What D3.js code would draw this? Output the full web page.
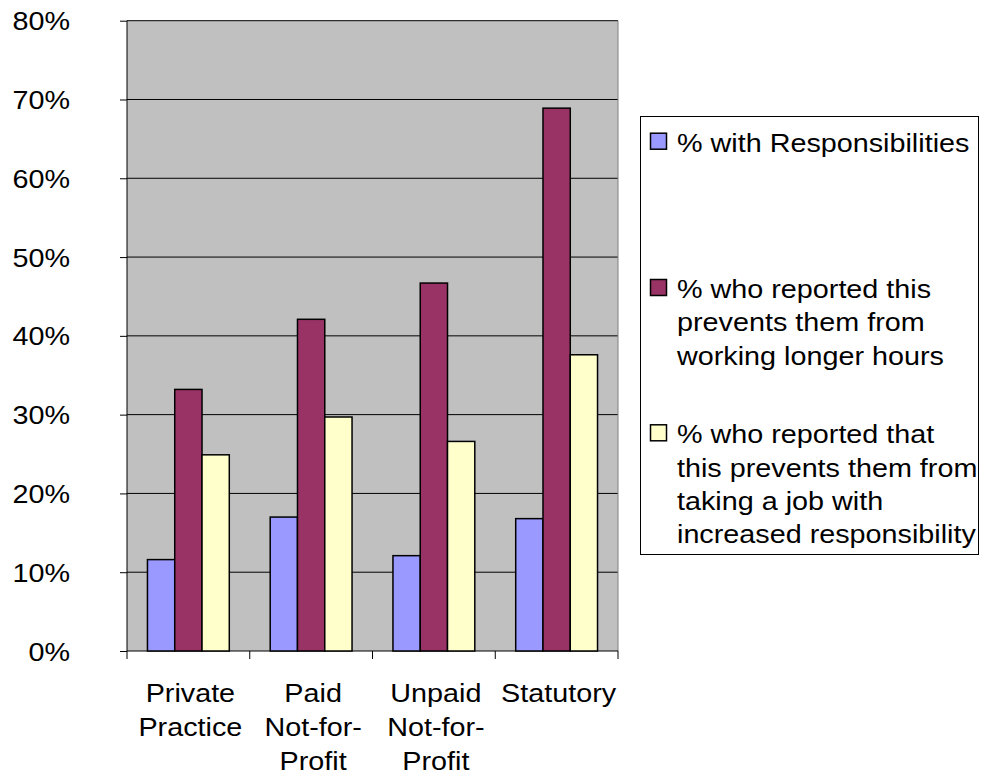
<!DOCTYPE html>
<html><head><meta charset="utf-8">
<script src="https://cdn.jsdelivr.net/npm/d3@7"></script>
<style>body{margin:0;background:#fff}svg{display:block}text{font-family:"Liberation Sans",Arial,sans-serif}</style>
</head><body><svg id="c" width="983" height="776"></svg>
<script>
const categories = [["Private","Practice"],["Paid","Not-for-","Profit"],["Unpaid","Not-for-","Profit"],["Statutory"]];
const seriesNames = [["% with Responsibilities"],["% who reported this","prevents them from","working longer hours"],["% who reported that","this prevents them from","taking a job with","increased responsibility"]];
const withResp = [11.6, 17.0, 12.1, 16.8];
const preventsHours = [33.2, 42.1, 46.7, 68.9];
const preventsJob = [24.9, 29.7, 26.6, 37.6];
const colors = ["#9999FF","#993366","#FFFFCC"];
const yTicks = [0,10,20,30,40,50,60,70,80];

const series = [withResp, preventsHours, preventsJob];
const SX = 1.15, FS = 25;
const svg = d3.select("#c");
const L=127, R=618, T=20.7, B=651;
const x = d3.scaleBand().domain(d3.range(categories.length)).range([L,R]).paddingInner(0).paddingOuter(0);
const y = d3.scaleLinear().domain([0,80]).range([B,T]);
const bw = x.bandwidth()/4.5;

svg.append("rect").attr("x",L).attr("y",T).attr("width",R-L).attr("height",B-T).attr("fill","#C0C0C0");
svg.append("g").selectAll("line").data(yTicks.slice(1)).join("line")
  .attr("x1",L).attr("x2",R).attr("y1",d=>y(d)).attr("y2",d=>y(d)).attr("stroke","#000").attr("stroke-width",1);
svg.append("line").attr("x1",R).attr("x2",R).attr("y1",T).attr("y2",B).attr("stroke","#808080").attr("stroke-width",1);

const yAxis = d3.axisLeft(y).tickValues(yTicks).tickFormat(d=>d+"%").tickSize(7).tickPadding(50);
const ga = svg.append("g").attr("transform",`translate(${L},0)`).call(yAxis);
ga.select(".domain").remove();
ga.selectAll(".tick line").attr("stroke","#000");
ga.selectAll(".tick text").attr("font-size",FS).attr("fill","#000").attr("text-anchor","end")
  .attr("x",0).attr("dy","0.36em").attr("transform",`translate(-57,0) scale(${SX},1)`);
svg.append("line").attr("x1",L).attr("x2",L).attr("y1",T).attr("y2",B).attr("stroke","#000");
svg.append("line").attr("x1",L).attr("x2",R).attr("y1",B).attr("y2",B).attr("stroke","#000");
// x ticks at category boundaries
svg.append("g").selectAll("line").data(d3.range(categories.length+1)).join("line")
  .attr("x1",i=>L+i*x.step()).attr("x2",i=>L+i*x.step()).attr("y1",B).attr("y2",B+8).attr("stroke","#000");

series.forEach((s,si)=>{
  svg.append("g").selectAll("rect").data(s).join("rect")
    .attr("x",(d,i)=>x(i)+bw*0.75+si*bw).attr("width",bw)
    .attr("y",d=>y(d)).attr("height",d=>B-y(d))
    .attr("fill",colors[si]).attr("stroke","#000").attr("stroke-width",1.5);
});

const xl = svg.append("g");
categories.forEach((lines,i)=>{
  const t = xl.append("text").attr("text-anchor","middle").attr("font-size",FS).attr("fill","#000")
    .attr("transform",`translate(${x(i)+x.bandwidth()/2+2},0) scale(${SX},1)`);
  lines.forEach((ln,j)=>t.append("tspan").attr("x",0).attr("y",702+j*34).text(ln));
});

// legend
const lg = svg.append("g");
lg.append("rect").attr("x",640.5).attr("y",116.5).attr("width",338).attr("height",438).attr("fill","#fff").attr("stroke","#000");
const legY = [151.7, 298, 443.3];
seriesNames.forEach((lines,si)=>{
  lg.append("rect").attr("x",650.5).attr("y",legY[si]-18.5).attr("width",16).attr("height",16)
    .attr("fill",colors[si]).attr("stroke","#000").attr("stroke-width",1.5);
  const t = lg.append("text").attr("font-size",FS).attr("fill","#000")
    .attr("transform",`translate(677,0) scale(${SX},1)`);
  lines.forEach((ln,j)=>t.append("tspan").attr("x",0).attr("y",legY[si]+j*33.3).text(ln));
});
</script></body></html>
